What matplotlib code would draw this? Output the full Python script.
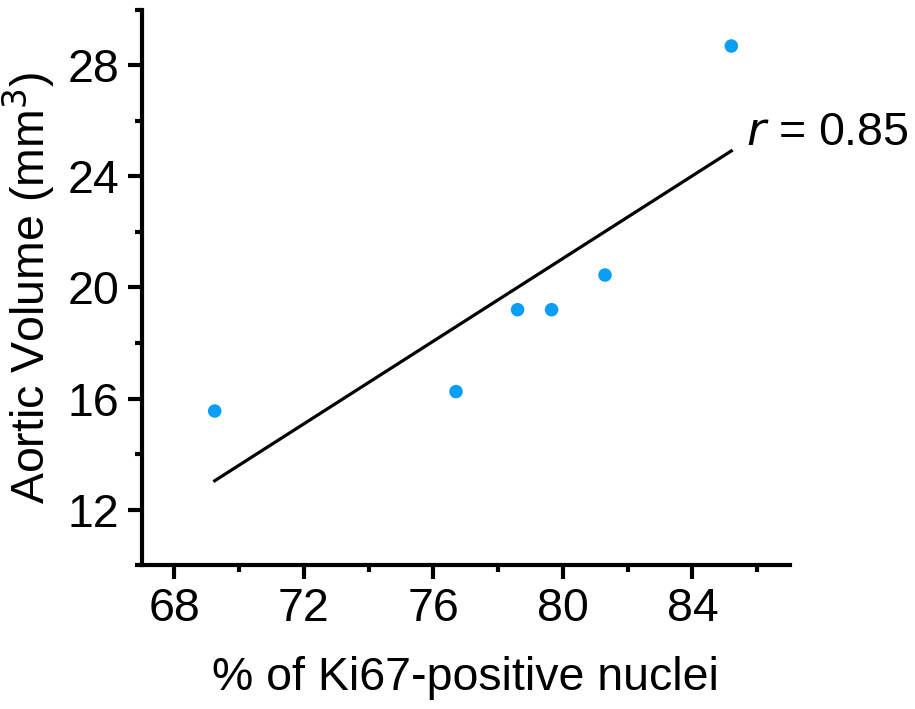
import numpy as np
import matplotlib.pyplot as plt
from matplotlib.ticker import MultipleLocator

# values
ki67_pct = [69.25, 76.7, 78.6, 79.65, 81.3, 85.2]
aortic_volume = [15.55, 16.25, 19.2, 19.2, 20.45, 28.7]
x_ticks = [68, 72, 76, 80, 84]
y_ticks = [12, 16, 20, 24, 28]

plt.rcParams['font.family'] = ['Liberation Sans', 'DejaVu Sans']
FS = 33.5

x = np.array(ki67_pct)
y = np.array(aortic_volume)
slope, intercept = np.polyfit(x, y, 1)
r = np.corrcoef(x, y)[0, 1]

fig = plt.figure(figsize=(9.15, 7.09), dpi=100)
ax = fig.add_axes([0.155, 0.203, 0.708, 0.783])

fit_x = np.array([x.min(), x.max()])
ax.plot(fit_x, slope * fit_x + intercept, color='black', lw=2.3, zorder=2)
ax.scatter(x, y, s=95, color='#0A9EF5', edgecolors='none', zorder=3)

ax.text(85.65, 25.55, f'$\\it{{r}}$ = {r:.2f}', fontsize=FS, va='center',
        ha='left', clip_on=False)

ax.set_xlim(67, 87)
ax.set_ylim(10, 30)
ax.set_xticks(x_ticks)
ax.set_yticks(y_ticks)
ax.xaxis.set_minor_locator(MultipleLocator(2))
ax.yaxis.set_minor_locator(MultipleLocator(2))

for side in ['top', 'right']:
    ax.spines[side].set_visible(False)
for side in ['left', 'bottom']:
    ax.spines[side].set_linewidth(3)

ax.tick_params(which='major', length=10, width=3, labelsize=FS, pad=6)
ax.tick_params(which='minor', length=5, width=3)

ax.set_xlabel('% of Ki67-positive nuclei', fontsize=FS, labelpad=18)
ax.set_ylabel('Aortic Volume (mm$^3$)', fontsize=FS, labelpad=8)

fig.savefig('out.png', dpi=100)
